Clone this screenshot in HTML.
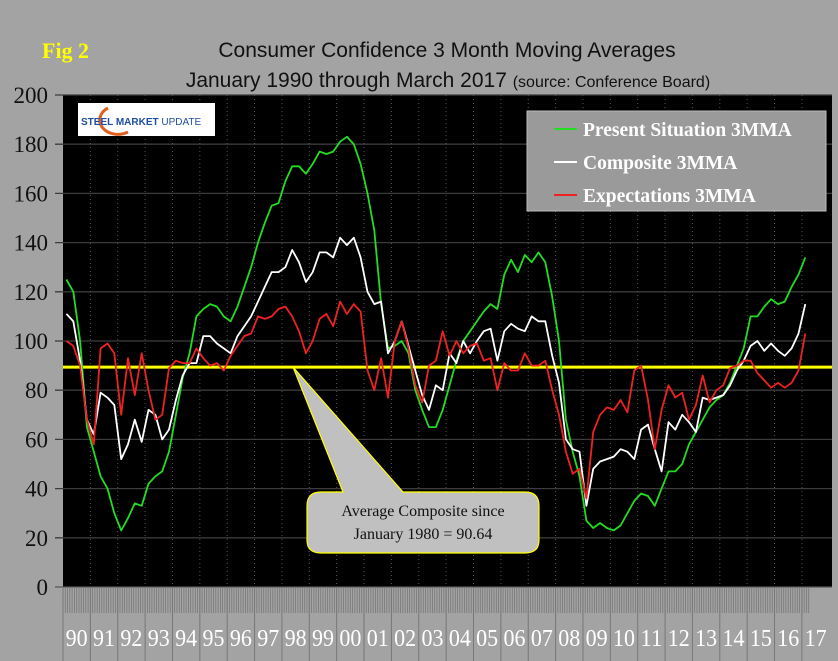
<!DOCTYPE html>
<html><head><meta charset="utf-8"><style>
html,body{margin:0;padding:0;background:#a3a3a3;}
svg{display:block;font-family:"Liberation Sans",sans-serif;}
</style></head><body>
<svg id="chart" width="838" height="661" viewBox="0 0 838 661">
<rect x="0" y="0" width="838" height="661" fill="#a3a3a3"/>
<text x="42" y="58" fill="#ffff00" font-family="Liberation Serif" font-weight="bold" font-size="22">Fig 2</text>
<text x="447" y="57" text-anchor="middle" font-size="21" fill="#111">Consumer Confidence 3 Month Moving Averages</text>
<text x="448" y="87" text-anchor="middle" font-size="21" fill="#111">January 1990 through March 2017 <tspan font-size="16">(source: Conference Board)</tspan></text>
<rect x="63" y="95" width="769" height="492" fill="#000"/>
<g id="grid"></g>
<g id="yaxis"></g>
<g id="xaxis"></g>
<g id="series"></g>
<g>
<rect x="78" y="103" width="137" height="33" fill="#fff"/>
<path d="M108,108 A14,11 0 1 0 128,132" fill="none" stroke="#e06020" stroke-width="3"/>
<text x="81" y="125" font-size="10" font-weight="bold" fill="#1f4fa0">STEEL MARKET <tspan font-weight="normal">UPDATE</tspan></text>
</g>
<g>
<rect x="527" y="111" width="299" height="100" fill="#9a9a9a" stroke="#bbb"/>
<line x1="554" y1="129" x2="577" y2="129" stroke="#22dd22" stroke-width="2"/>
<text x="583" y="136" font-family="Liberation Serif" font-weight="bold" font-size="19.5" fill="#fff">Present Situation 3MMA</text>
<line x1="554" y1="162" x2="577" y2="162" stroke="#fff" stroke-width="2"/>
<text x="583" y="169" font-family="Liberation Serif" font-weight="bold" font-size="19.5" fill="#fff">Composite 3MMA</text>
<line x1="554" y1="195" x2="577" y2="195" stroke="#ee2222" stroke-width="2"/>
<text x="583" y="202" font-family="Liberation Serif" font-weight="bold" font-size="19.5" fill="#fff">Expectations 3MMA</text>
</g>
<g id="callout"></g>
</svg>
<script>
const years=["90","91","92","93","94","95","96","97","98","99","00","01","02","03","04","05","06","07","08","09","10","11","12","13","14","15","16","17"];
const yTicks=[0,20,40,60,80,100,120,140,160,180,200];
const avgComposite=89.4;
// quarterly values, Q1 1990 .. Q1 2017
const present=[125,120,100,65, 55,45,40,30, 23,28,34,33, 42,45,47,55, 70,85,95,110, 113,115,114,110, 108,114,122,130, 140,148,155,156, 165,171,171,168, 172,177,176,177, 181,183,180,172, 160,145,115,97, 98,100,95,80, 72,65,65,72, 82,92,100,104, 108,112,115,113, 127,133,128,135, 132,136,132,118, 100,68,55,45, 27,24,26,24, 23,25,30,35, 38,37,33,40, 47,47,50,58, 63,68,73,76, 78,83,90,97, 110,110,114,117, 115,116,122,127, 134];
const composite=[111,108,92,68, 62,79,77,74, 52,58,68,59, 72,70,60,64, 76,86,91,91, 102,102,99,97, 95,102,106,110, 116,122,128,128, 130,137,132,124, 128,136,136,134, 142,139,142,134, 120,115,116,95, 100,108,98,88, 78,72,82,80, 95,91,100,95, 100,104,105,92, 104,107,105,104, 110,108,108,94, 83,60,56,55, 33,48,51,52, 53,56,55,52, 64,66,56,47, 67,64,70,67, 63,77,76,77, 78,82,88,92, 98,100,96,99, 96,94,97,103, 115];
const expectations=[100,98,90,68, 58,97,99,95, 70,93,78,95, 80,68,70,89, 92,91,91,97, 93,90,91,88, 94,98,102,103, 110,109,110,113, 114,110,104,95, 100,109,111,106, 116,111,115,112, 88,80,93,77, 100,108,97,82, 75,90,92,104, 94,100,95,98, 99,92,93,80, 91,88,88,95, 90,90,92,80, 70,55,46,48, 36,63,70,73, 72,76,71,88, 90,76,56,72, 82,77,79,68, 74,86,75,80, 82,89,90,92, 92,87,84,81, 83,81,83,88, 103];

const NS="http://www.w3.org/2000/svg";
const X0=63,X1=832,Y0=587,Y1=95,yearW=(X1-X0)/28.1;
function y(v){return Y0-(v/200)*(Y0-Y1);}
function xq(i){return X0+yearW*(i/4+0.125);}
function mk(tag,attrs,parent){const e=document.createElementNS(NS,tag);for(const k in attrs)e.setAttribute(k,attrs[k]);parent.appendChild(e);return e;}
const grid=document.getElementById('grid'),yax=document.getElementById('yaxis'),xax=document.getElementById('xaxis'),ser=document.getElementById('series');
yTicks.forEach(t=>{
  const l=mk('line',{x1:55,x2:X1,y1:y(t),y2:y(t),stroke:t===0?'#555':'#3c3c3c','stroke-width':1.3},grid);
  
  
  const tx=mk('text',{x:48,y:y(t)+8,'text-anchor':'end','font-family':'Liberation Serif','font-size':23,fill:'#111'},yax);
  tx.textContent=t;
  
  
});
years.forEach((yr,i)=>{
  const x=X0+yearW*i;
  if(i>0){const g=mk('line',{x1:x,x2:x,y1:Y1,y2:Y0,stroke:'#555','stroke-dasharray':'1,3'},grid);
  
  }
  const s=mk('line',{x1:x,x2:x,y1:Y0,y2:661,stroke:'#777'},xax);
  
  
  const tx=mk('text',{x:x+yearW/2,y:646,'text-anchor':'middle','font-family':'Liberation Serif','font-size':24,fill:'#fff',textLength:Math.min(22,yearW-3),lengthAdjust:'spacingAndGlyphs'},xax);
  tx.textContent=yr;
  
  
});
let d='';for(let m=0;m<=327;m++){const x=X0+m*yearW/12;d+='M'+x.toFixed(1)+','+Y0+'V613';}
const tk=mk('path',{d:d,stroke:'#777','stroke-width':0.8},xax);


const av=mk('line',{x1:X0,x2:X1,y1:y(avgComposite),y2:y(avgComposite),stroke:'#ffff00','stroke-width':3},ser);


function line(arr,col,name){
  const pts=arr.map((v,i)=>xq(i).toFixed(1)+','+y(v).toFixed(1)).join(' ');
  const p=mk('polyline',{points:pts,fill:'none',stroke:col,'stroke-width':1.8,'stroke-linejoin':'round'},ser);
  
  
}
line(present,'#22dd22','present-situation-line');
line(composite,'#ffffff','composite-line');
line(expectations,'#ee2222','expectations-line');
const co=document.getElementById('callout');
const ay=y(avgComposite);
const cp=mk('path',{d:`M293,${ay} L403,492 L525,492 Q539,492 539,506 L539,540 Q539,553 525,553 L321,553 Q307,553 307,540 L307,506 Q307,492 321,492 L343,492 Z`,fill:'#c0c0c0',stroke:'#ffff00','stroke-width':1.2},co);


const t1=mk('text',{x:423,y:516,'text-anchor':'middle','font-family':'Liberation Serif','font-size':16,fill:'#111'},co);
t1.textContent='Average Composite since';


const t2=mk('text',{x:423,y:539,'text-anchor':'middle','font-family':'Liberation Serif','font-size':16,fill:'#111'},co);
t2.textContent='January 1980 = 90.64';


</script>
</body></html>
